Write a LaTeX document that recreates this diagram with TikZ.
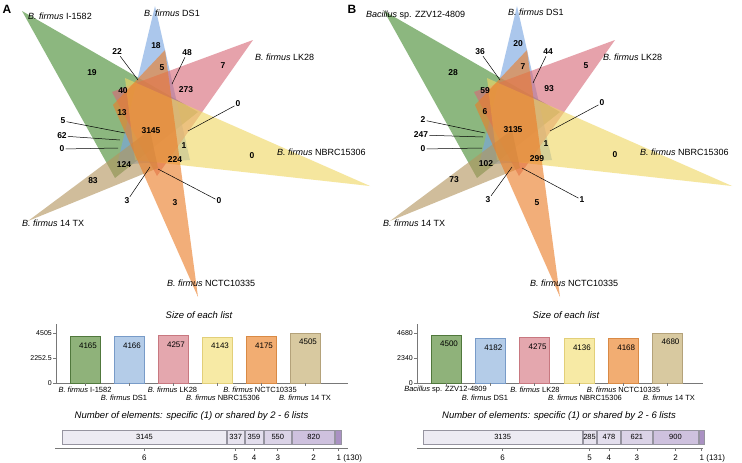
\documentclass[tikz,border=0pt]{standalone}
\usepackage{fontspec}
\setmainfont{Liberation Sans}
\definecolor{vgreen}{RGB}{70,140,50}
\definecolor{vblue}{RGB}{120,165,225}
\definecolor{vred}{RGB}{215,105,120}
\definecolor{vyellow}{RGB}{240,215,100}
\definecolor{vorange}{RGB}{235,125,40}
\definecolor{vtan}{RGB}{180,150,95}
\definecolor{bgreen}{RGB}{143,178,122}\definecolor{dgreen}{RGB}{80,120,60}
\definecolor{bblue}{RGB}{180,204,232}\definecolor{dblue}{RGB}{120,155,200}
\definecolor{bred}{RGB}{228,167,174}\definecolor{dred}{RGB}{200,120,128}
\definecolor{byellow}{RGB}{247,234,165}\definecolor{dyellow}{RGB}{226,207,121}
\definecolor{borange}{RGB}{242,173,114}\definecolor{dorange}{RGB}{217,138,69}
\definecolor{btan}{RGB}{216,201,160}\definecolor{dtan}{RGB}{180,162,122}
\definecolor{s6}{RGB}{237,235,243}\definecolor{s5}{RGB}{231,227,239}
\definecolor{s4}{RGB}{227,222,237}\definecolor{s3}{RGB}{219,211,231}
\definecolor{s2}{RGB}{206,193,222}\definecolor{s1}{RGB}{170,145,195}
\definecolor{sborder}{RGB}{150,148,160}
\definecolor{axisgrey}{RGB}{120,120,120}
\tikzset{
  tri/.style={fill opacity=0.62},
  num/.style={font=\fontsize{8.5}{9}\selectfont\bfseries, inner sep=1pt},
  vlab/.style={font=\fontsize{9}{10}\selectfont, inner sep=0pt},
  lead/.style={draw=black, line width=0.5pt},
  ttl/.style={font=\fontsize{9.5}{10}\selectfont\itshape, inner sep=0pt},
  blab/.style={font=\fontsize{7.5}{8}\selectfont, inner sep=0pt},
  valnum/.style={font=\fontsize{8}{9}\selectfont, inner sep=0pt},
  snum/.style={font=\fontsize{7.5}{8}\selectfont, inner sep=0pt},
  ytick/.style={font=\fontsize{7}{8}\selectfont, inner sep=0pt, anchor=east},
  axl/.style={draw=axisgrey, line width=0.6pt},
  seg/.style={draw=sborder, line width=0.5pt},
  panel/.style={font=\fontsize{12}{13}\selectfont\bfseries, inner sep=0pt}
}
\newcommand\venntris{%
  \fill[tri,vgreen] (22,11) -- (115,178) -- (198,112) -- cycle;
  \fill[tri,vblue] (155,6) -- (117,165) -- (190,160) -- cycle;
  \fill[tri,vred] (253,40) -- (112,92) -- (157,176) -- cycle;
  \fill[tri,vyellow] (370,186) -- (125,78) -- (135,160) -- cycle;
  \fill[tri,vtan] (28,221) -- (150,130) -- (158,168) -- cycle;
  \fill[tri,vorange] (198,297) -- (113,105) -- (165,50) -- cycle;
}
\begin{document}
\begin{tikzpicture}[x=1pt,y=-1pt]
\useasboundingbox (0,0) rectangle (742,463);
\fill[white] (0,0) rectangle (742,463);
% ---------------- Panel A venn
\venntris
\begin{scope}[xshift=362pt]
\venntris
\end{scope}
\node[panel] (pA) at (7,9) {A};
\node[panel] (pB) at (352,9) {B};
% labels A
\node[vlab] (lA1) at (60,16) {\textit{B. firmus} I-1582};
\node[vlab] (lA2) at (172,13) {\textit{B. firmus} DS1};
\node[vlab,anchor=west] (lA3) at (255,57) {\textit{B. firmus} LK28};
\node[vlab,anchor=west] (lA4) at (277,152) {\textit{B. firmus} NBRC15306};
\node[vlab,anchor=west] (lA5) at (22,223) {\textit{B. firmus} 14 TX};
\node[vlab,anchor=west] (lA6) at (167,283) {\textit{B. firmus} NCTC10335};
% numbers A
\node[num] (a19) at (92,73) {19};
\node[num] (a18) at (156,46) {18};
\node[num] (a22) at (117,52) {22};
\node[num] (a48) at (187,53) {48};
\node[num] (a5t) at (162,68) {5};
\node[num] (a7) at (223,66) {7};
\node[num] (a40) at (123,91) {40};
\node[num] (a273) at (186,90) {273};
\node[num] (a0r) at (238,104) {0};
\node[num] (a13) at (122,113) {13};
\node[num] (a3145) at (151,131) {3145};
\node[num] (a5l) at (63,121) {5};
\node[num] (a62) at (62,136) {62};
\node[num] (a0l) at (62,149) {0};
\node[num] (a1) at (184,146) {1};
\node[num] (a124) at (124,165) {124};
\node[num] (a224) at (175,160) {224};
\node[num] (a83) at (93,181) {83};
\node[num] (a0y) at (252,156) {0};
\node[num] (a3l) at (127,201) {3};
\node[num] (a3o) at (175,203) {3};
\node[num] (a0b) at (219,201) {0};
\coordinate (ea22) at (138,80);
\coordinate (ea48) at (172,84);
\coordinate (ea0r) at (188,131);
\coordinate (ea5l) at (125,133);
\coordinate (ea62) at (120,140);
\coordinate (ea0l) at (118,148);
\coordinate (ea3l) at (150,167);
\coordinate (ea0b) at (158,169);
\draw[lead] (a22) -- (ea22);
\draw[lead] (a48) -- (ea48);
\draw[lead] (a0r) -- (ea0r);
\draw[lead] (a5l) -- (ea5l);
\draw[lead] (a62) -- (ea62);
\draw[lead] (a0l) -- (ea0l);
\draw[lead] (a3l) -- (ea3l);
\draw[lead] (a0b) -- (ea0b);
% labels B
\node[vlab,anchor=west] (lB1) at (366,15) {\textit{Bacillus} sp. ZZV12-4809};
\node[vlab,anchor=west] (lB2) at (508,12) {\textit{B. firmus} DS1};
\node[vlab,anchor=west] (lB3) at (603,57) {\textit{B. firmus} LK28};
\node[vlab,anchor=west] (lB4) at (640,152) {\textit{B. firmus} NBRC15306};
\node[vlab,anchor=west] (lB5) at (383,223) {\textit{B. firmus} 14 TX};
\node[vlab,anchor=west] (lB6) at (530,283) {\textit{B. firmus} NCTC10335};
% numbers B
\node[num] (b36) at (480,52) {36};
\node[num] (b20) at (518,44) {20};
\node[num] (b44) at (548,52) {44};
\node[num] (b28) at (453,73) {28};
\node[num] (b7) at (523,67) {7};
\node[num] (b5) at (586,66) {5};
\node[num] (b59) at (485,91) {59};
\node[num] (b93) at (549,89) {93};
\node[num] (b0r) at (602,103) {0};
\node[num] (b6) at (485,112) {6};
\node[num] (b3135) at (513,130) {3135};
\node[num] (b2) at (423,120) {2};
\node[num] (b247) at (421,135) {247};
\node[num] (b0l) at (423,149) {0};
\node[num] (b1) at (546,144) {1};
\node[num] (b102) at (486,164) {102};
\node[num] (b299) at (537,159) {299};
\node[num] (b0y) at (615,155) {0};
\node[num] (b73) at (454,180) {73};
\node[num] (b3) at (488,200) {3};
\node[num] (b5o) at (537,203) {5};
\node[num] (b1b) at (582,200) {1};
\coordinate (eb36) at (500,80);
\coordinate (eb44) at (533,83);
\coordinate (eb0r) at (550,131);
\coordinate (eb2) at (485,133);
\coordinate (eb247) at (483,137);
\coordinate (eb0l) at (482,148);
\coordinate (eb3) at (512,167);
\coordinate (eb1b) at (522,168);
\draw[lead] (b36) -- (eb36);
\draw[lead] (b44) -- (eb44);
\draw[lead] (b0r) -- (eb0r);
\draw[lead] (b2) -- (eb2);
\draw[lead] (b247) -- (eb247);
\draw[lead] (b0l) -- (eb0l);
\draw[lead] (b3) -- (eb3);
\draw[lead] (b1b) -- (eb1b);
% ---------------- bar chart A
\node[ttl] (tA1) at (199,315) {Size of each list};
\draw[axl] (56,324) -- (56,383) -- (348,383);
\draw[axl] (53,333) -- (56,333) (53,358) -- (56,358) (53,383) -- (56,383);
\node[ytick] (yA1) at (52,333) {4505};
\node[ytick] (yA2) at (52,358) {2252.5};
\node[ytick] (yA3) at (52,383) {0};
\foreach \i/\v/\f/\d in {0/4165/bgreen/dgreen,1/4166/bblue/dblue,2/4257/bred/dred,3/4143/byellow/dyellow,4/4175/borange/dorange,5/4505/btan/dtan}{
  \pgfmathsetmacro\xl{70+44*\i}
  \pgfmathsetmacro\h{\v/4505*50}
  \filldraw[fill=\f, draw=\d, line width=0.7pt] (\xl,383) rectangle ++(30,-\h);
  \node[valnum] (av\i) at (\xl+18,383-\h+9) {\v};
  \draw[axl] (\xl+15,383) -- ++(0,3);
}
\node[blab] (xA1) at (85,390) {\textit{B. firmus} I-1582};
\node[blab] (xA2) at (124,398) {\textit{B. firmus} DS1};
\node[blab] (xA3) at (172.5,390) {\textit{B. firmus} LK28};
\node[blab] (xA4) at (223,398) {\textit{B. firmus} NBRC15306};
\node[blab] (xA5) at (260,390) {\textit{B. firmus} NCTC10335};
\node[blab] (xA6) at (305,398) {\textit{B. firmus} 14 TX};
% stacked A
\node[ttl] (tA2) at (191.5,416) {Number of elements: specific (1) or shared by 2 - 6 lists};
\foreach \xa/\xb/\c/\t/\k in {62/226.88/s6/3145/6,226.88/244.55/s5/337/5,244.55/263.37/s4/359/4,263.37/292.20/s3/550/3,292.20/335.19/s2/820/2,335.19/342.01/s1//1}{
  \filldraw[seg, fill=\c] (\xa+0.5,430) rectangle (\xb-0.5,444);
  \node[snum] (sA\k) at ({(\xa+\xb)/2},437) {\t};
  \draw[axl] ({(\xa+\xb)/2},448) -- ++(0,3);
}
\draw[axl] (55,448) -- (348,448);
\node[valnum] (kA6) at (144.4,458) {6};
\node[valnum] (kA5) at (235.7,458) {5};
\node[valnum] (kA4) at (254,458) {4};
\node[valnum] (kA3) at (277.8,458) {3};
\node[valnum] (kA2) at (313.7,458) {2};
\node[valnum,anchor=west] (kA1) at (336.4,458) {1 (130)};
% ---------------- bar chart B
\node[ttl] (tB1) at (566,315) {Size of each list};
\draw[axl] (417,324) -- (417,383) -- (703,383);
\draw[axl] (414,333) -- (417,333) (414,358) -- (417,358) (414,383) -- (417,383);
\node[ytick] (yB1) at (413,333) {4680};
\node[ytick] (yB2) at (413,358) {2340};
\node[ytick] (yB3) at (413,383) {0};
\foreach \i/\v/\f/\d in {0/4500/bgreen/dgreen,1/4182/bblue/dblue,2/4275/bred/dred,3/4136/byellow/dyellow,4/4168/borange/dorange,5/4680/btan/dtan}{
  \pgfmathsetmacro\xl{431+44.3*\i}
  \pgfmathsetmacro\h{\v/4680*50}
  \filldraw[fill=\f, draw=\d, line width=0.7pt] (\xl,383) rectangle ++(30,-\h);
  \node[valnum] (bv\i) at (\xl+18,383-\h+9) {\v};
  \draw[axl] (\xl+15,383) -- ++(0,3);
}
\node[blab] (xB1) at (445.5,390) {\textit{Bacillus} sp. ZZV12-4809};
\node[blab] (xB2) at (485,398) {\textit{B. firmus} DS1};
\node[blab] (xB3) at (535,390) {\textit{B. firmus} LK28};
\node[blab] (xB4) at (585,398) {\textit{B. firmus} NBRC15306};
\node[blab] (xB5) at (623.5,390) {\textit{B. firmus} NCTC10335};
\node[blab] (xB6) at (669,398) {\textit{B. firmus} 14 TX};
% stacked B
\node[ttl] (tB2) at (559,416) {Number of elements: specific (1) or shared by 2 - 6 lists};
\foreach \xa/\xb/\c/\t/\k in {423/582.29/s6/3135/6,582.29/596.77/s5/285/5,596.77/621.06/s4/478/4,621.06/652.61/s3/621/3,652.61/698.34/s2/900/2,698.34/705/s1//1}{
  \filldraw[seg, fill=\c] (\xa+0.5,430) rectangle (\xb-0.5,444);
  \node[snum] (sB\k) at ({(\xa+\xb)/2},437) {\t};
  \draw[axl] ({(\xa+\xb)/2},448) -- ++(0,3);
}
\draw[axl] (417,448) -- (703,448);
\node[valnum] (kB6) at (502.7,458) {6};
\node[valnum] (kB5) at (589.5,458) {5};
\node[valnum] (kB4) at (608.9,458) {4};
\node[valnum] (kB3) at (636.8,458) {3};
\node[valnum] (kB2) at (675.5,458) {2};
\node[valnum,anchor=west] (kB1) at (699.5,458) {1 (131)};
\end{tikzpicture}
\end{document}
